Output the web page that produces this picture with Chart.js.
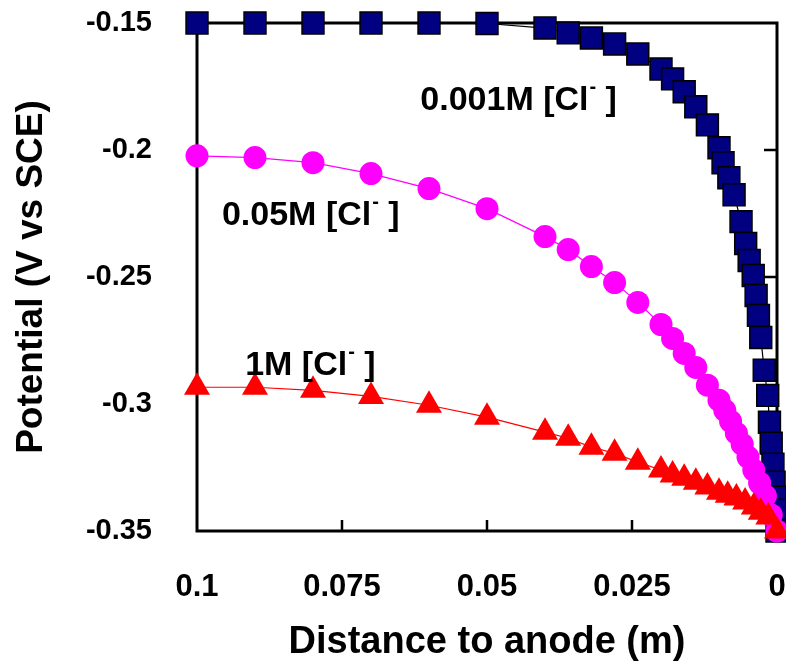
<!DOCTYPE html>
<html>
<head>
<meta charset="utf-8">
<script src="https://cdn.jsdelivr.net/npm/chart.js@4"></script>
<style>
  html, body { margin: 0; padding: 0; background: #fff; }
  #wrap { width: 786px; height: 670px; }
</style>
</head>
<body>
<div id="wrap"><canvas id="chart" width="786" height="670"></canvas></div>
<script>
// distance to anode (m) and potential (V vs SCE)
const distBlue = [0.1, 0.09, 0.08, 0.07, 0.06, 0.05, 0.04, 0.036, 0.032, 0.028, 0.024, 0.02, 0.018, 0.016, 0.014, 0.012, 0.01,
  0.0093, 0.0083, 0.0074, 0.0062, 0.0054, 0.0048, 0.0041, 0.0036, 0.0032, 0.0028, 0.0022, 0.0016, 0.0013, 0.001, 0.0007, 0.0005, 0.0003, 0.0001, 0];
const potBlue = [-0.15, -0.15, -0.15, -0.15, -0.15, -0.1502, -0.152, -0.1539, -0.1559, -0.1583, -0.1622, -0.1681, -0.172, -0.1771, -0.183, -0.1901, -0.1991,
  -0.205, -0.2109, -0.2176, -0.2282, -0.2368, -0.2435, -0.2494, -0.2573, -0.2651, -0.2738, -0.2867, -0.2966, -0.3072, -0.3154, -0.3237, -0.3308, -0.3367, -0.3418, -0.35];

const distPink = [0.1, 0.09, 0.08, 0.07, 0.06, 0.05, 0.04, 0.036, 0.032, 0.028, 0.024, 0.02, 0.018, 0.016, 0.014, 0.012,
  0.01, 0.009, 0.008, 0.007, 0.006, 0.005, 0.004, 0.003, 0.002, 0.001, 0];
const potPink = [-0.2023, -0.203, -0.205, -0.2093, -0.2152, -0.2231, -0.2341, -0.2392, -0.2459, -0.2522, -0.26, -0.2687, -0.2742, -0.2801, -0.2856, -0.2926,
  -0.2985, -0.3025, -0.3068, -0.3115, -0.3158, -0.3209, -0.326, -0.3311, -0.3362, -0.3437, -0.35];

const distRed = [0.1, 0.09, 0.08, 0.07, 0.06, 0.05, 0.04, 0.036, 0.032, 0.028, 0.024, 0.02, 0.018, 0.016, 0.014, 0.012,
  0.01, 0.0085, 0.007, 0.0055, 0.004, 0.0028, 0.0015, 0];
const potRed = [-0.2934, -0.2934, -0.2946, -0.297, -0.3005, -0.3052, -0.3111, -0.3135, -0.317, -0.3194, -0.3229, -0.326, -0.328, -0.3292, -0.3308, -0.3327,
  -0.3347, -0.3359, -0.337, -0.3386, -0.3406, -0.3426, -0.3445, -0.35];

const curveNames = ['0.001M', '0.05M', '1M'];
// where each curve label sits, in axis units (left edge, middle of text)
const labelAt = [[0.0615, -0.1806], [0.0957, -0.2258], [0.0917, -0.2848]];

const xTickMarks = [0.075, 0.05, 0.025];
const yTickMarks = [-0.3, -0.25, -0.2];

const FONT = '"Liberation Sans", Arial, sans-serif';

function pts(xs, ys) {
  return xs.map((x, i) => ({ x: x, y: ys[i] }));
}

function tidy(v) {
  return String(Number(v.toFixed(3)));
}

// box round the plot, inward ticks, and the curve labels
const decor = {
  id: 'decor',
  beforeDatasetsDraw(chart) {
    const { ctx, chartArea: a, scales } = chart;
    ctx.save();
    ctx.strokeStyle = '#000';
    ctx.lineWidth = 3;
    ctx.strokeRect(a.left, a.top, a.right - a.left, a.bottom - a.top);
    ctx.lineWidth = 2.5;
    ctx.beginPath();
    xTickMarks.forEach((v) => {
      const px = scales.x.getPixelForValue(v);
      ctx.moveTo(px, a.bottom);
      ctx.lineTo(px, a.bottom - 11);
    });
    yTickMarks.forEach((v) => {
      const py = scales.y.getPixelForValue(v);
      ctx.moveTo(a.right, py);
      ctx.lineTo(a.right - 13, py);
    });
    ctx.stroke();
    ctx.restore();
  },
  afterDatasetsDraw(chart) {
    const { ctx, scales } = chart;
    ctx.save();
    ctx.fillStyle = '#000';
    ctx.textBaseline = 'middle';
    ctx.textAlign = 'left';
    curveNames.forEach((name, i) => {
      let x = scales.x.getPixelForValue(labelAt[i][0]);
      const y = scales.y.getPixelForValue(labelAt[i][1]);
      ctx.font = 'bold 34px ' + FONT;
      const head = name + ' [Cl';
      ctx.fillText(head, x, y);
      x += ctx.measureText(head).width + 1;
      ctx.font = 'bold 20px ' + FONT;
      ctx.fillText('-', x, y - 13);
      x += ctx.measureText('-').width;
      ctx.font = 'bold 34px ' + FONT;
      ctx.fillText(' ]', x, y);
    });
    ctx.restore();
  }
};

new Chart(document.getElementById('chart').getContext('2d'), {
  type: 'scatter',
  data: {
    datasets: [
      {
        label: '1M',
        data: pts(distRed, potRed),
        showLine: true,
        borderColor: '#ff0000',
        borderWidth: 1.2,
        backgroundColor: '#ff0000',
        pointStyle: 'triangle',
        pointRadius: 15,
        pointBorderWidth: 0,
        pointHoverRadius: 15,
        clip: false,
      },
      {
        label: '0.05M',
        data: pts(distPink, potPink),
        showLine: true,
        borderColor: '#ff00ff',
        borderWidth: 1.2,
        backgroundColor: '#ff00ff',
        pointStyle: 'circle',
        pointRadius: 11.5,
        pointBorderWidth: 0,
        pointHoverRadius: 11.5,
        clip: false,
      },
      {
        label: '0.001M',
        data: pts(distBlue, potBlue),
        showLine: true,
        borderColor: '#000000',
        borderWidth: 1.2,
        backgroundColor: '#000080',
        pointStyle: 'rect',
        pointRadius: 15.5,
        pointBorderColor: '#000000',
        pointBorderWidth: 1.5,
        pointHoverRadius: 15.5,
        clip: false,
      },
    ],
  },
  options: {
    responsive: false,
    animation: false,
    events: [],
    layout: { autoPadding: false, padding: { top: 23, right: 9, left: 0, bottom: 0 } },
    plugins: {
      legend: { display: false },
      tooltip: { enabled: false },
    },
    scales: {
      x: {
        type: 'linear',
        reverse: true,
        min: 0,
        max: 0.1,
        grid: { display: false, drawTicks: false },
        border: { display: false },
        ticks: {
          stepSize: 0.025,
          color: '#000',
          padding: 38,
          font: { family: FONT, size: 31, weight: 'bold' },
          maxRotation: 0,
          callback: (v) => tidy(v),
        },
        title: {
          display: true,
          text: 'Distance to anode (m)',
          color: '#000',
          font: { family: FONT, size: 38, weight: 'bold' },
          padding: { top: 0, bottom: 5 },
        },
        afterFit(scale) {
          scale.height = 139;
          scale.paddingLeft = 0;
          scale.paddingRight = 0;
        },
      },
      y: {
        min: -0.35,
        max: -0.15,
        grid: { display: false, drawTicks: false },
        border: { display: false },
        ticks: {
          stepSize: 0.05,
          color: '#000',
          padding: 45,
          font: { family: FONT, size: 29, weight: 'bold' },
          callback: (v) => tidy(v),
        },
        title: {
          display: true,
          text: 'Potential (V vs SCE)',
          color: '#000',
          font: { family: FONT, size: 37, weight: 'bold' },
          padding: { top: 10, bottom: 0 },
        },
        afterFit(scale) {
          scale.width = 197;
          scale.paddingTop = 0;
          scale.paddingBottom = 0;
        },
      },
    },
  },
  plugins: [decor],
});
</script>
</body>
</html>
